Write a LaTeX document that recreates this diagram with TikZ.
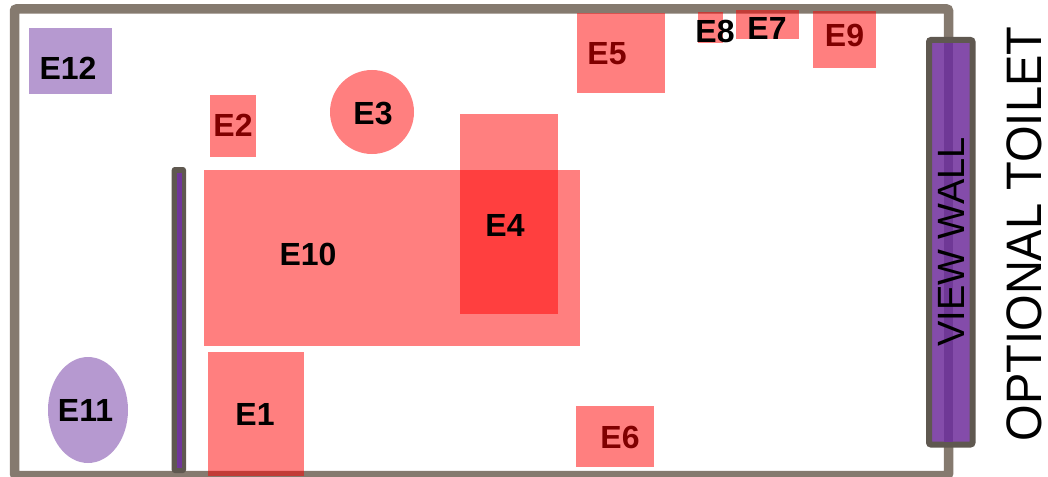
\documentclass[tikz,border=0pt]{standalone}
\usepackage{fontspec}
\setmainfont{Liberation Sans}
\tikzset{
  wall/.style={draw=wallc,line width=9.5pt,rounded corners=2pt},
  redzone/.style={fill=red,fill opacity=0.5},
  purplezone/.style={fill=lilac},
  lab/.style={font=\fontsize{32}{32}\bfseries\selectfont,inner sep=0pt,text=black},
  divider/.style={draw=darkwall,fill=#1,rounded corners=2pt,line width=6pt},
  longtext/.style={rotate=90,inner sep=0pt,text=black},
}
\definecolor{wallc}{HTML}{857A6F}
\definecolor{darkwall}{HTML}{5F5850}
\definecolor{lilac}{HTML}{B699D0}
\definecolor{vwall}{HTML}{844CAA}
\definecolor{vband}{HTML}{6F3896}
\definecolor{pwall}{HTML}{70359A}
\begin{document}
\begin{tikzpicture}[x=1pt,y=-1pt]
\useasboundingbox (0,0) rectangle (1048,476);
% outer wall
\draw[wall] (14.5,9) rectangle (948.5,475.5);
% labels lying beneath the translucent zones
\node[lab] (e5) at (607,54) {E5};
\node[lab] (e2) at (233,125) {E2};
\node[lab] (e6) at (620,437) {E6};
\node[lab] (e9) at (844.5,35) {E9};
% red zones
\fill[redzone] (577,13) rectangle (665,93);
\fill[redzone] (813,11) rectangle (876,68);
\fill[redzone] (698,12) rectangle (723,43);
\fill[redzone] (736,10) rectangle (799,39);
\fill[redzone] (210,95) rectangle (256,157);
\fill[redzone] (576,406) rectangle (654,467);
\fill[redzone] (204,170) rectangle (580,346);
\fill[redzone] (460,114) rectangle (558,314);
\fill[redzone] (208,352) rectangle (304,476);
\fill[redzone] (372,112) circle (42);
% purple zones
\fill[purplezone] (29,28) rectangle (112,94);
\fill[purplezone] (88,410) ellipse (40 and 53);
% partition
\fill[darkwall,rounded corners=3pt] (171.7,167) rectangle (186,473);
\fill[pwall] (176.7,173) rectangle (181.7,468);
% view wall
\draw[divider=vwall] (929,40) rectangle (972.5,444.5);
\fill[vband] (944,43) rectangle (953,441.5);
% labels on top
\node[lab] (e8) at (715,31) {E8};
\node[lab] (e7) at (767,28) {E7};
\node[lab] (e12) at (68,68) {E12};
\node[lab] (e11) at (85.5,410) {E11};
\node[lab] (e3) at (373,113.5) {E3};
\node[lab] (e10) at (308,254) {E10};
\node[lab] (e4) at (505,225) {E4};
\node[lab] (e1) at (255,414) {E1};
\node[longtext,font=\fontsize{38}{38}\selectfont] (vw) at (951,242) {VIEW WALL};
\node[longtext,yscale=1.06,font=\fontsize{47}{47}\selectfont] (ot) at (1024,234) {OPTIONAL TOILET};
\end{tikzpicture}
\end{document}
